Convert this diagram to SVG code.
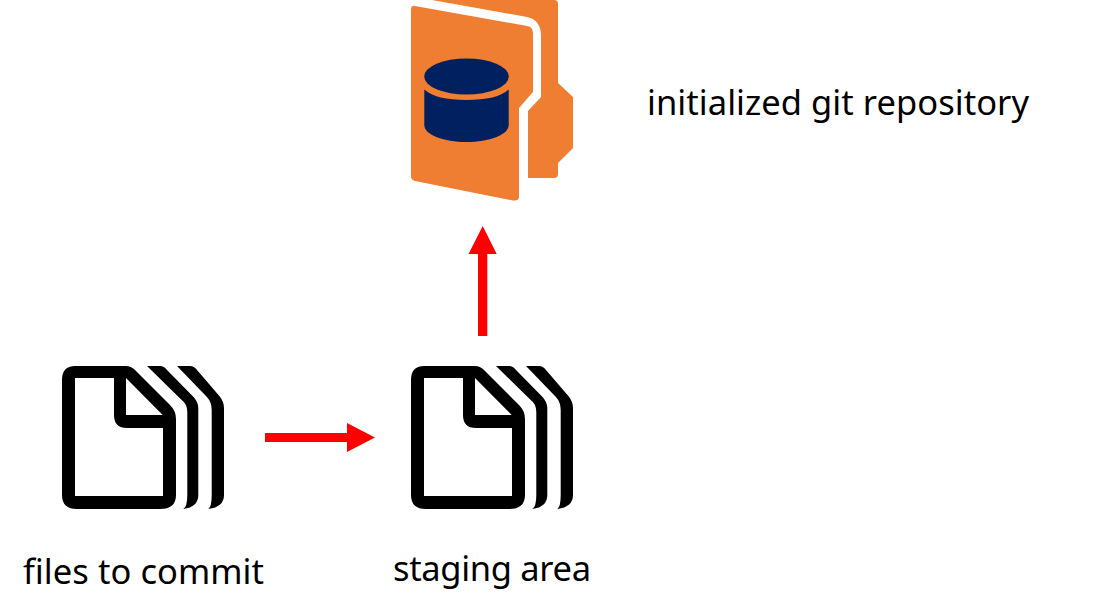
<svg xmlns="http://www.w3.org/2000/svg" width="1100" height="615" viewBox="0 0 1100 615">
<style>
.lbl{font-family:"Noto Sans","Open Sans","Liberation Sans",sans-serif;font-size:34.500px;fill:#000}
.org{fill:#ef7e32}
.navy{fill:#002060}
.red{fill:#f00}
</style>
<defs>
<g id="docs">
<path fill-rule="evenodd" d="M75 366H126Q131 366 135 370L170 405Q176 411 176 419V495Q176 509 160 509H77Q62 509 62 495V380Q62 366 75 366ZM75 378V496H163V428H127Q114 428 114 415V378ZM126 378V415H162.700Z"/>
<path d="M147 366H160Q164 366 167 370L193.300 396.700Q198.300 402 198.300 408V495Q198.300 507 183.300 509Q187.300 507 187.300 495V412Q187.300 404 181.700 400Z"/>
<path d="M177 366H190Q194 366 197 370L220 396.700Q224 402 224 408V495Q224 507 208.300 509Q211.700 507 211.700 495V410Q211.700 402 206.700 396.700Z"/>
</g>
</defs>
<g id="connectors">
<path class="red" d="M265 433H347V423L375 437.500L347 452V442H265Z"/>
<path class="red" d="M478 336V254H468.500L482.700 226L496.700 254H487.300V336Z"/>
</g>
<g id="repository">
<path class="org" d="M432 0H554Q558 0 558 4V83L573 97V148L558 163V174Q558 178 554 178H528V111L541 97V36Q541 20 527 17Z"/>
<path class="org" d="M415 6L527 26Q533 27 533 33V92L519 108V197Q519 201 513 200.500L415 181Q411 180 411 176V10Q411 5 415 6Z"/>
<ellipse class="navy" cx="466.500" cy="76.500" rx="42.300" ry="18"/>
<path class="navy" d="M424.300 89.500Q436 100 466.500 100Q497 100 508.700 89.500V125C508.700 135 489 142 466.500 142C444 142 424.300 135 424.300 125Z"/>
</g>
<g id="files-to-commit">
<use href="#docs"/>
<text class="lbl" x="23" y="584" textLength="241">files to commit</text>
</g>
<g id="staging-area">
<use href="#docs" x="349"/>
<text class="lbl" x="393" y="581" textLength="198">staging area</text>
</g>
<g id="repository-label">
<text class="lbl" x="647" y="115" textLength="382">initialized git repository</text>
</g>
</svg>
